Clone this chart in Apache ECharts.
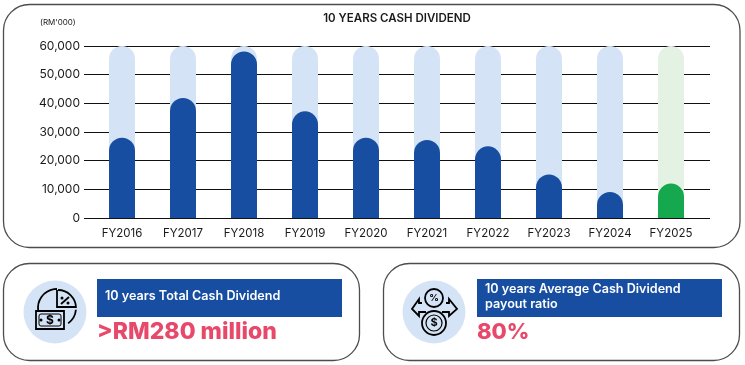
<!DOCTYPE html>
<html>
<head>
<meta charset="utf-8">
<style>
  html, body { margin: 0; padding: 0; background: #fff; }
  #main { width: 745px; height: 365px; }
</style>
<script src="https://cdn.jsdelivr.net/npm/echarts@6/dist/echarts.min.js"></script>
</head>
<body>
<div id="main"></div>
<script>
const years = ['FY2016', 'FY2017', 'FY2018', 'FY2019', 'FY2020', 'FY2021', 'FY2022', 'FY2023', 'FY2024', 'FY2025'];
const dividend = [28000, 41900, 58100, 37200, 28000, 27200, 25000, 15200, 9100, 12000];
const track = [60000, 60000, 60000, 60000, 60000, 60000, 60000, 60000, 60000, 60000];

const FONT = 'Inter, "Open Sans", sans-serif';
const BLUE = '#174ea1';
const PALE = '#d4e3f5';
const GREEN = '#16a84f';
const PALE_GREEN = '#e4f2e4';
const PINK = '#e8496a';
const INK = '#1a1a1a';

function panel(x, y, w, h, r) {
  return {
    type: 'rect',
    shape: { x, y, width: w, height: h, r },
    style: { fill: '#fff', stroke: '#4d4d4d', lineWidth: 1.3 },
    silent: true,
    z: -10
  };
}

function label(x, y, text, font, fill, extra) {
  return {
    type: 'text',
    x, y,
    style: Object.assign({ text, font, fill, textVerticalAlign: 'middle' }, extra || {}),
    silent: true
  };
}

const line = { fill: 'none', stroke: '#000', lineWidth: 1.8 };

const icon1 = [
  { type: 'circle', shape: { cx: 55, cy: 312, r: 31.5 }, style: { fill: PALE } },
  { type: 'arc', shape: { cx: 57, cy: 308, r: 19, startAngle: Math.PI * 0.95, endAngle: Math.PI * 1.5 }, style: line },
  { type: 'arc', shape: { cx: 57, cy: 308, r: 19, startAngle: Math.PI * 0.03, endAngle: Math.PI * 0.3 }, style: line },
  { type: 'polyline', shape: { points: [[57, 290], [57, 307], [76, 307]] }, style: line },
  { type: 'arc', shape: { cx: 58, cy: 308, r: 18, startAngle: Math.PI * 1.5, endAngle: Math.PI * 2 }, style: line },
  { type: 'polyline', shape: { points: [[61, 304], [69, 297]] }, style: line },
  { type: 'circle', shape: { cx: 62, cy: 298, r: 1.5 }, style: { fill: '#000' } },
  { type: 'circle', shape: { cx: 68, cy: 303, r: 1.5 }, style: { fill: '#000' } },
  { type: 'rect', shape: { x: 36, y: 311, width: 28, height: 18 }, style: { fill: PALE, stroke: '#000', lineWidth: 1.8 } },
  { type: 'rect', shape: { x: 39, y: 314, width: 22, height: 12, r: 2 }, style: { fill: 'none', stroke: '#000', lineWidth: 1 } },
  { type: 'circle', shape: { cx: 41, cy: 320, r: 1.5 }, style: { fill: '#000' } },
  { type: 'circle', shape: { cx: 59, cy: 320, r: 1.5 }, style: { fill: '#000' } },
  label(50, 320, '$', 'bold 12px ' + FONT, '#000', { textAlign: 'center' })
];

const icon2 = [
  { type: 'circle', shape: { cx: 434, cy: 312, r: 31.5 }, style: { fill: PALE } },
  { type: 'polyline', shape: { points: [[422, 303], [419, 303], [419, 299], [412, 309], [419, 316], [419, 312], [426, 312]] }, style: line },
  { type: 'polyline', shape: { points: [[446, 303], [449, 303], [449, 299], [457, 309], [449, 316], [449, 312], [442, 312]] }, style: line },
  { type: 'circle', shape: { cx: 434, cy: 298, r: 9 }, style: { fill: PALE, stroke: '#000', lineWidth: 1.8 } },
  label(434, 298, '%', 'bold 9.5px ' + FONT, '#000', { textAlign: 'center' }),
  { type: 'circle', shape: { cx: 434, cy: 323, r: 12 }, style: { fill: PALE, stroke: '#000', lineWidth: 1.8 } },
  { type: 'circle', shape: { cx: 434, cy: 323, r: 8 }, style: { fill: 'none', stroke: '#000', lineWidth: 1.2 } },
  label(434, 323, '$', 'bold 11px ' + FONT, '#000', { textAlign: 'center' })
];

const chart = echarts.init(document.getElementById('main'), null, { renderer: 'canvas' });
chart.setOption({
  animation: false,
  backgroundColor: '#fff',
  grid: [
    { left: 84, width: 626, top: 46, height: 172 },
    { left: 91.5, width: 610, top: 46, height: 172 }
  ],
  xAxis: [
    { gridIndex: 0, type: 'value', min: 0, max: 1, show: false },
    {
      gridIndex: 1,
      type: 'category',
      data: years,
      axisLine: { show: false },
      axisTick: { show: false },
      axisLabel: { color: INK, fontFamily: FONT, fontSize: 11.5, margin: 10 }
    }
  ],
  yAxis: [
    {
      gridIndex: 0,
      type: 'value',
      min: 0,
      max: 60000,
      interval: 10000,
      axisLine: { show: false },
      axisTick: { show: false },
      axisLabel: {
        color: INK,
        fontFamily: FONT,
        fontSize: 12,
        margin: 4,
        formatter: v => v.toLocaleString('en-US')
      },
      splitLine: { lineStyle: { color: '#111', width: 1 } }
    },
    { gridIndex: 1, type: 'value', min: 0, max: 60000, show: false }
  ],
  series: [
    {
      name: 'Track',
      type: 'bar',
      xAxisIndex: 1,
      yAxisIndex: 1,
      barWidth: 26,
      barGap: '-100%',
      data: track.map((v, i) => ({
        value: v,
        itemStyle: { color: i === track.length - 1 ? PALE_GREEN : PALE }
      })),
      itemStyle: { borderRadius: [13, 13, 0, 0] },
      silent: true
    },
    {
      name: 'Cash dividend',
      type: 'bar',
      xAxisIndex: 1,
      yAxisIndex: 1,
      barWidth: 26,
      barGap: '-100%',
      data: dividend.map((v, i) => ({
        value: v,
        itemStyle: { color: i === dividend.length - 1 ? GREEN : BLUE }
      })),
      itemStyle: { borderRadius: [13, 13, 0, 0] },
      silent: true
    }
  ],
  graphic: [
    panel(3.5, 4.5, 736.5, 243, 26),
    panel(3.5, 263.5, 356, 97, 26),
    panel(383.5, 263.5, 356, 97, 26),
    label(40, 23, "(RM'000)", '8px ' + FONT, INK),
    label(397, 19, '10 YEARS CASH DIVIDEND', '600 11.5px ' + FONT, INK, { textAlign: 'center' }),
    { type: 'rect', shape: { x: 97, y: 279, width: 245, height: 38 }, style: { fill: BLUE } },
    { type: 'rect', shape: { x: 477, y: 279, width: 245, height: 38 }, style: { fill: BLUE } },
    label(105, 296, '10 years Total Cash Dividend', '600 12.6px ' + FONT, '#fff'),
    label(485, 289, '10 years Average Cash Dividend', '600 12.6px ' + FONT, '#fff'),
    label(485, 304, 'payout ratio', '600 12.6px ' + FONT, '#fff'),
    label(97, 332, '>RM280 million', '800 23px ' + FONT, PINK),
    label(477, 332, '80%', '800 22px ' + FONT, PINK)
  ].concat(icon1, icon2)
});
</script>
</body>
</html>
